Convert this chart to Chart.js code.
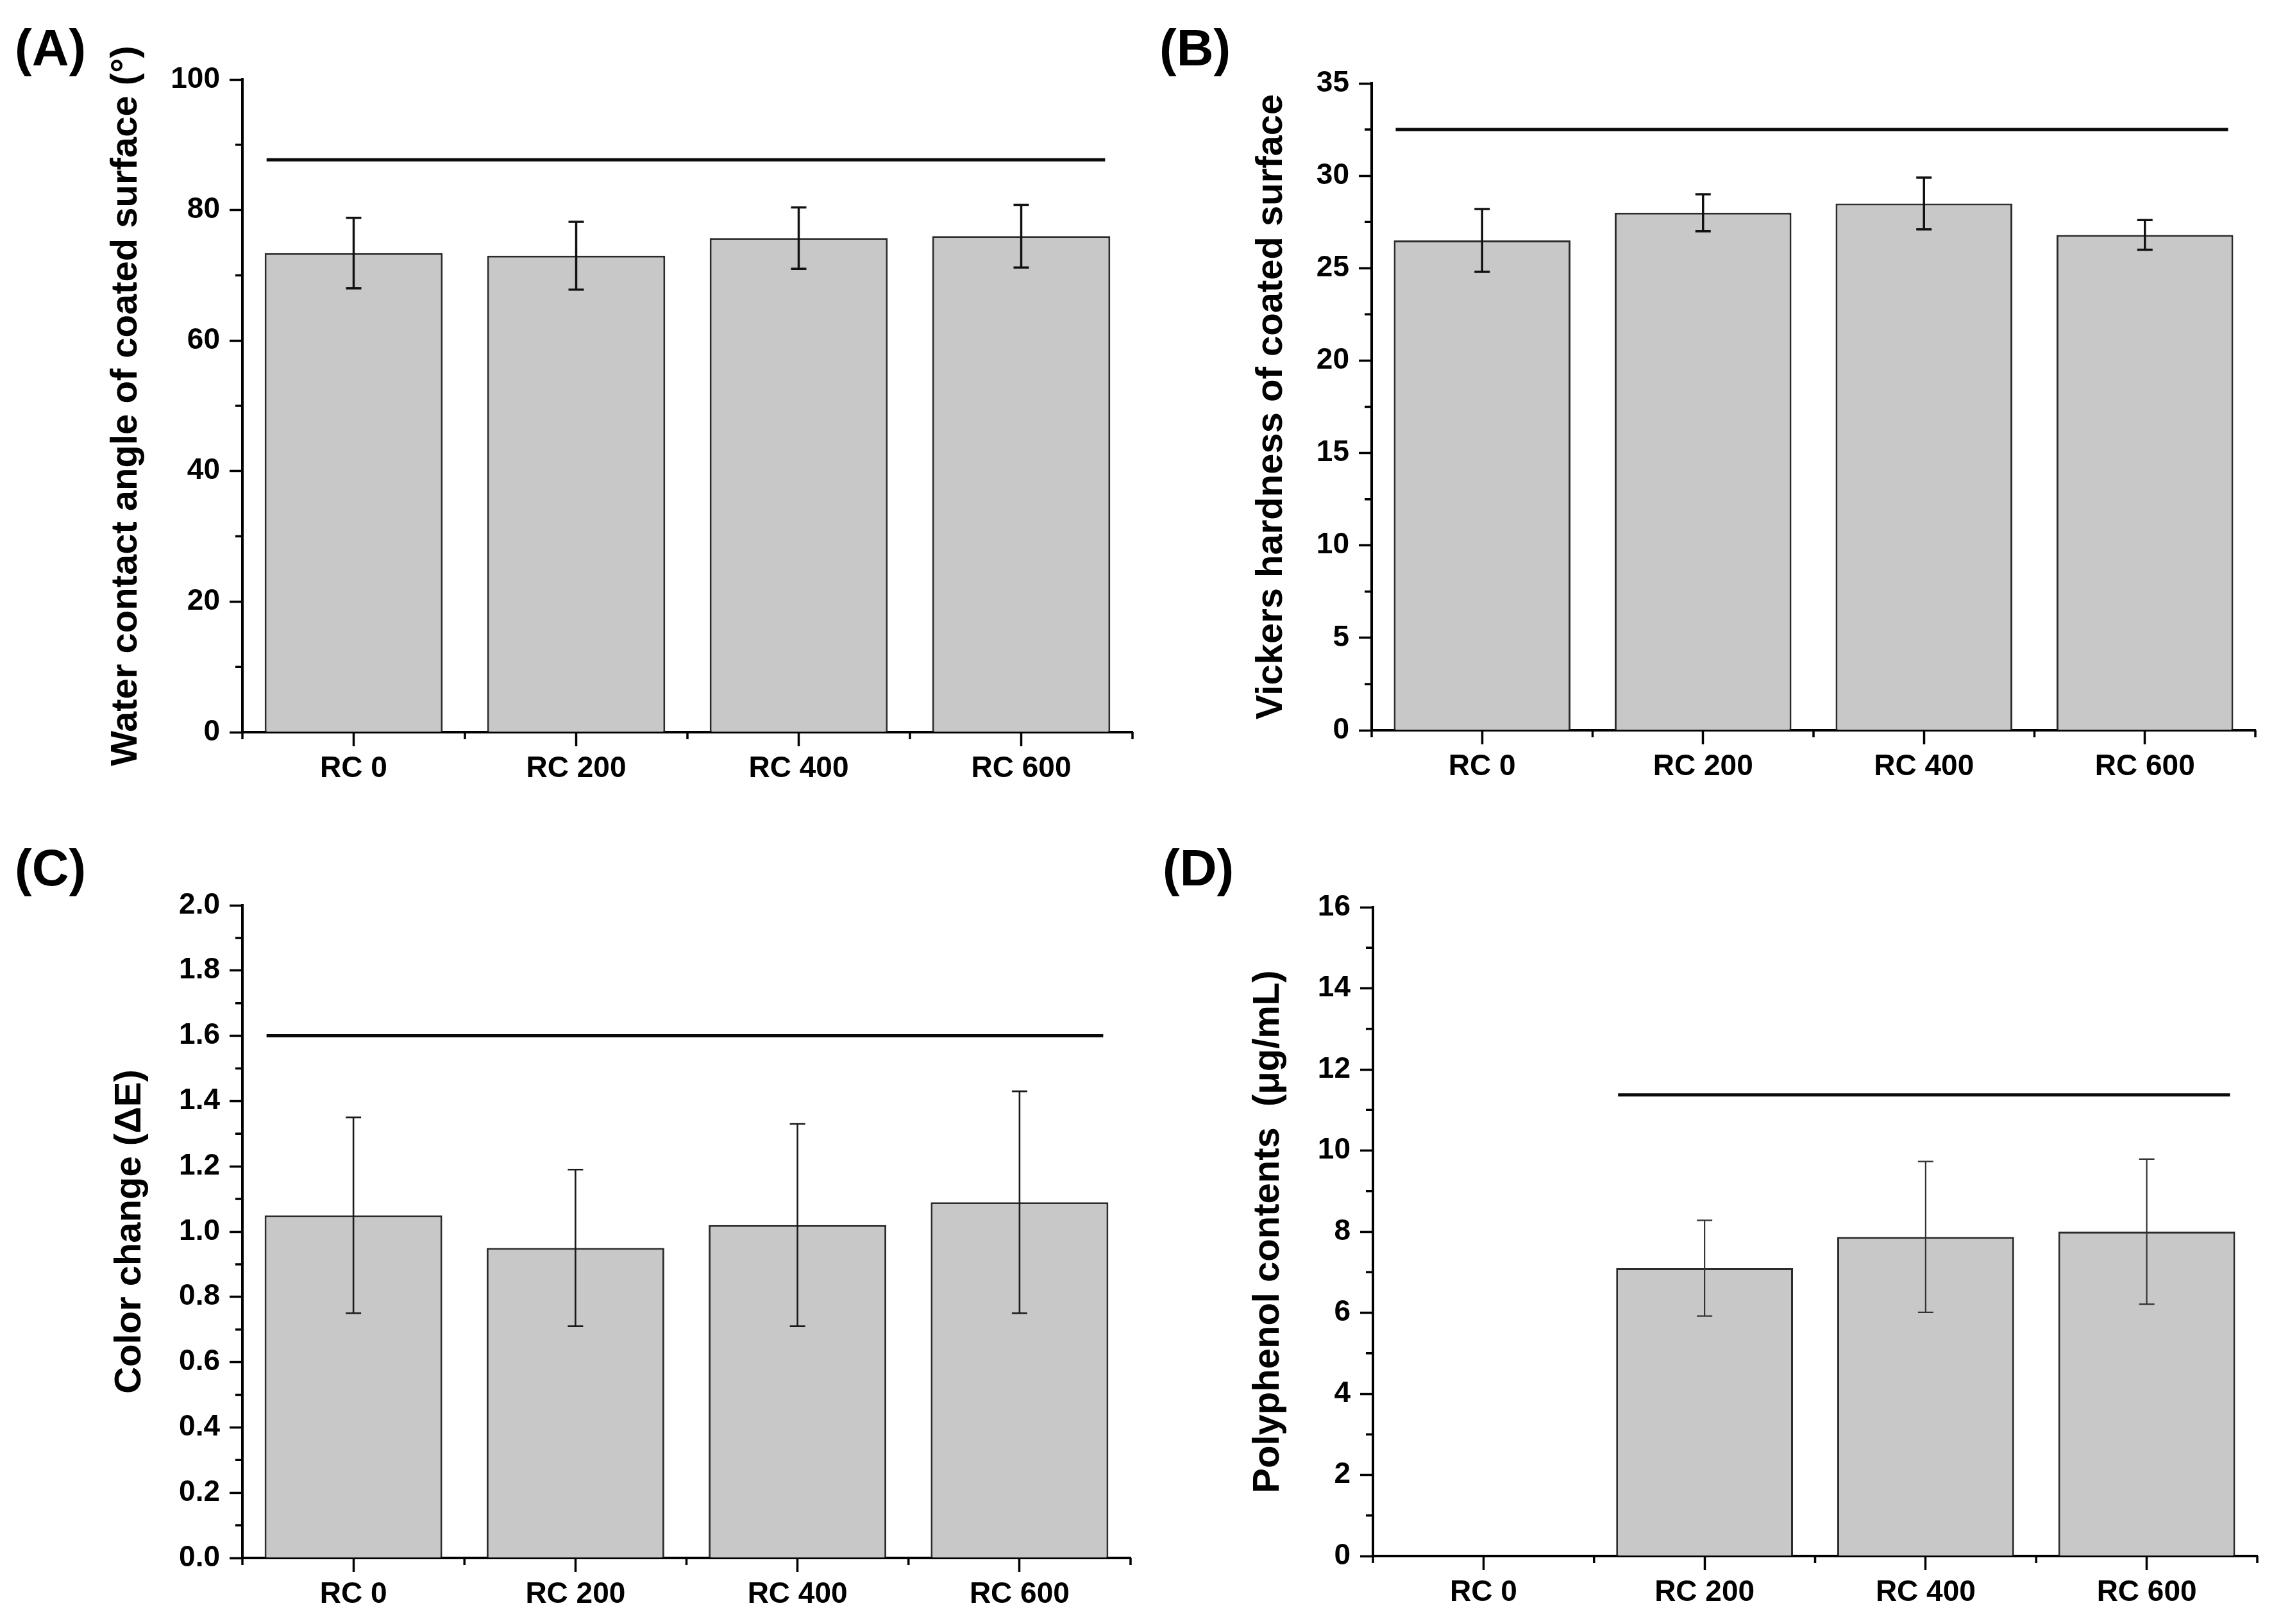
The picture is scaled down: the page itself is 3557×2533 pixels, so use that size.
<!DOCTYPE html>
<html>
<head>
<meta charset="utf-8">
<script src="https://cdn.jsdelivr.net/npm/chart.js@4.4.1/dist/chart.umd.min.js"></script>
<style>
  html, body { margin: 0; padding: 0; background: #ffffff; overflow: hidden; }
  body { width: 3557px; height: 2533px; position: relative; }
  canvas { position: absolute; }
</style>
</head>
<body>
<canvas id="cA" width="1778" height="1266" style="left:0px;top:0px;width:1778px;height:1266px"></canvas>
<canvas id="cB" width="1779" height="1266" style="left:1778px;top:0px;width:1779px;height:1266px"></canvas>
<canvas id="cC" width="1778" height="1267" style="left:0px;top:1266px;width:1778px;height:1267px"></canvas>
<canvas id="cD" width="1779" height="1267" style="left:1778px;top:1266px;width:1779px;height:1267px"></canvas>
<script>
// ---------------- DATA ----------------
const categories = ['RC 0', 'RC 200', 'RC 400', 'RC 600'];

const contactAngle   = [73.4, 73.0, 75.7, 76.0];
const contactAngleSD = [5.4, 5.2, 4.7, 4.8];

const hardness   = [26.5, 28.0, 28.5, 26.8];
const hardnessSD = [1.7, 1.0, 1.4, 0.8];

const colorChange   = [1.05, 0.95, 1.02, 1.09];
const colorChangeSD = [0.30, 0.24, 0.31, 0.34];

const polyphenol   = [null, 7.1, 7.87, 8.0];
const polyphenolSD = [null, 1.18, 1.86, 1.79];

// significance (n.s.) bars: level, first category, last category
const sigLevel = [87.7, 32.5, 1.6, 11.37];
const sigFrom  = [0, 0, 0, 1];
const sigTo    = [3, 3, 3, 3];

// y-axis ranges / ticks
const yMax      = [100, 35, 2.0, 16];
const yStep     = [20, 5, 0.2, 2];
const yMinor    = [10, 2.5, 0.1, 1];
const yDecimals = [0, 0, 1, 0];

const yTitles = [
  'Water contact angle of coated surface (°)',
  'Vickers hardness of coated surface',
  'Color change (ΔE)',
  'Polyphenol contents  (μg/mL)'
];
const panelLabels = ['(A)', '(B)', '(C)', '(D)'];

// ---------------- STYLE / LAYOUT ----------------
const FONT = "'Liberation Sans', Arial, Helvetica, sans-serif";
const panels = [
  { id: 'cA', W: 1778, H: 1266, left: 378, top: 124, right: 1766, bottom: 1142, titlePad: 162, labelX: 23, labelY: 102,
    values: contactAngle, errors: contactAngleSD, errColor: '#111', errWidth: 3.5 },
  { id: 'cB', W: 1779, H: 1266, left: 361, top: 130, right: 1739, bottom: 1139, titlePad: 170, labelX: 30, labelY: 102,
    values: hardness, errors: hardnessSD, errColor: '#111', errWidth: 3.5 },
  { id: 'cC', W: 1778, H: 1267, left: 378, top: 146, right: 1763, bottom: 1164, titlePad: 168, labelX: 23, labelY: 115,
    values: colorChange, errors: colorChangeSD, errColor: '#1a1a1a', errWidth: 2.6 },
  { id: 'cD', W: 1779, H: 1267, left: 363, top: 149, right: 1742, bottom: 1161, titlePad: 165, labelX: 35, labelY: 115,
    values: polyphenol, errors: polyphenolSD, errColor: '#333', errWidth: 2.2 }
];

const extrasPlugin = {
  id: 'extras',
  afterDatasetsDraw(chart, args, o) {
    const ctx = chart.ctx;
    const meta = chart.getDatasetMeta(0);
    const ys = chart.scales.y;
    const vals = chart.data.datasets[0].data;
    ctx.save();
    // error bars
    ctx.strokeStyle = o.errColor;
    ctx.lineWidth = o.errWidth;
    const cap = 24;
    meta.data.forEach((el, i) => {
      if (vals[i] == null || o.errors[i] == null) return;
      const x = el.x;
      const yt = ys.getPixelForValue(vals[i] + o.errors[i]);
      const yb = ys.getPixelForValue(vals[i] - o.errors[i]);
      ctx.beginPath();
      ctx.moveTo(x, yt); ctx.lineTo(x, yb);
      ctx.moveTo(x - cap / 2, yt); ctx.lineTo(x + cap / 2, yt);
      ctx.moveTo(x - cap / 2, yb); ctx.lineTo(x + cap / 2, yb);
      ctx.stroke();
    });
    // significance line
    const xs = chart.scales.x;
    const half = (xs.getPixelForValue(1) - xs.getPixelForValue(0)) * 0.8 / 2;
    const x0 = xs.getPixelForValue(o.sigFrom) - half + 3;
    const x1 = xs.getPixelForValue(o.sigTo) + half - 8;
    const yl = ys.getPixelForValue(o.sigLevel);
    ctx.strokeStyle = '#0a0a0a';
    ctx.lineWidth = 5;
    ctx.beginPath(); ctx.moveTo(x0, yl); ctx.lineTo(x1, yl); ctx.stroke();
    ctx.restore();
  },
  afterDraw(chart, args, o) {
    const ctx = chart.ctx;
    const ys = chart.scales.y, xs = chart.scales.x;
    const ca = chart.chartArea;
    ctx.save();
    ctx.strokeStyle = '#000';
    ctx.lineWidth = 3.5;
    // minor y ticks
    ctx.beginPath();
    for (let k = 1; k * o.minor < o.max - 1e-9; k += 2) {
      const y = ys.getPixelForValue(k * o.minor);
      ctx.moveTo(ca.left - 11, y); ctx.lineTo(ca.left, y);
    }
    // minor x ticks at category boundaries
    const n = chart.data.labels.length;
    for (let i = 0; i <= n; i++) {
      const x = xs.getPixelForValue(i - 0.5);
      ctx.moveTo(x, ca.bottom); ctx.lineTo(x, ca.bottom + 11);
    }
    ctx.stroke();
    // panel label
    ctx.fillStyle = '#000';
    ctx.font = 'bold 80px ' + FONT;
    ctx.textBaseline = 'alphabetic';
    ctx.textAlign = 'left';
    ctx.fillText(o.label, o.labelX, o.labelY);
    ctx.restore();
  }
};

panels.forEach((p, idx) => {
  const ctx = document.getElementById(p.id).getContext('2d');
  new Chart(ctx, {
    type: 'bar',
    data: {
      labels: categories,
      datasets: [{
        data: p.values,
        backgroundColor: '#c8c8c8',
        borderColor: '#2b2b2b',
        borderWidth: 3,
        barPercentage: 0.8,
        categoryPercentage: 1.0
      }]
    },
    plugins: [extrasPlugin],
    options: {
      responsive: false,
      animation: false,
      devicePixelRatio: 1,
      layout: { padding: { left: 0, top: p.top, right: p.W - p.right, bottom: 0 } },
      plugins: {
        legend: { display: false },
        tooltip: { enabled: false },
        extras: {
          errors: p.errors, errColor: p.errColor, errWidth: p.errWidth,
          sigLevel: sigLevel[idx], sigFrom: sigFrom[idx], sigTo: sigTo[idx],
          minor: yMinor[idx], max: yMax[idx],
          label: panelLabels[idx], labelX: p.labelX, labelY: p.labelY
        }
      },
      scales: {
        x: {
          type: 'category',
          offset: true,
          afterFit: (s) => { s.height = p.H - p.bottom; },
          grid: { display: true, drawOnChartArea: false, drawTicks: true, offset: false,
                  tickLength: 22, tickWidth: 3.5, tickColor: '#000', color: '#000' },
          border: { display: true, color: '#000', width: 4 },
          ticks: { color: '#000', padding: 8, maxRotation: 0, autoSkip: false,
                   font: { family: FONT, weight: 'bold', size: 46 } }
        },
        y: {
          min: 0,
          max: yMax[idx],
          afterFit: (s) => { s.width = p.left; },
          grid: { display: true, drawOnChartArea: false, drawTicks: true,
                  tickLength: 20, tickWidth: 3.5, tickColor: '#000', color: '#000' },
          border: { display: true, color: '#000', width: 4 },
          ticks: { color: '#000', padding: 15, stepSize: yStep[idx], autoSkip: false,
                   font: { family: FONT, weight: 'bold', size: 46 },
                   callback: (v) => Number(v).toFixed(yDecimals[idx]) },
          title: { display: true, text: yTitles[idx], color: '#000',
                   padding: { top: p.titlePad, bottom: 0 },
                   font: { family: FONT, weight: 'bold', size: 58 } }
        }
      }
    }
  });
});
</script>
</body>
</html>
